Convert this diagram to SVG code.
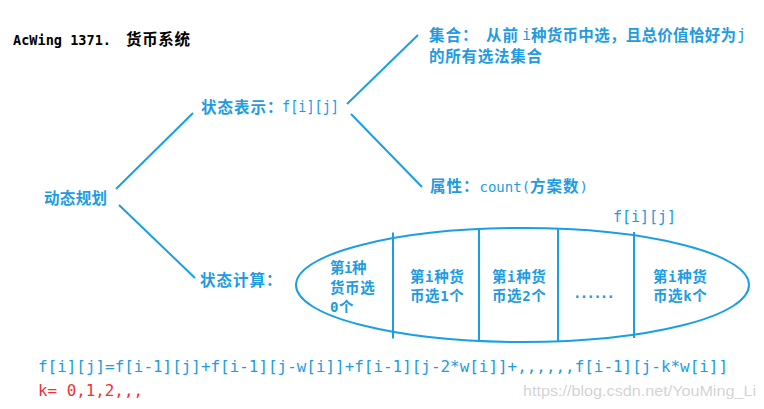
<svg xmlns="http://www.w3.org/2000/svg" width="764" height="409" viewBox="0 0 764 409">
<style>
.c{font-family:"Noto Sans CJK SC","Noto Sans",sans-serif;font-size:15.5px;letter-spacing:1px;fill:#1d9be3;font-weight:600}
.a{font-family:"DejaVu Sans Mono","Liberation Mono",monospace;font-size:15px;fill:#1d9be3}
.t{font-family:"DejaVu Sans Mono","Liberation Mono",monospace;font-size:14px;letter-spacing:0;font-weight:normal}
.cell{font-family:"Noto Sans CJK SC","Noto Sans",sans-serif;font-size:14.5px;letter-spacing:0.6px;fill:#1d9be3;font-weight:600}
.ca{font-family:"DejaVu Sans Mono","Liberation Mono",monospace;font-size:14px;font-weight:bold}
.ln{stroke:#1b9fe3;stroke-width:2;fill:none}
.mono{font-family:"DejaVu Sans Mono","Liberation Mono",monospace;font-size:16px}
</style>
<rect width="764" height="409" fill="#ffffff"/>
<g id="title">
<text x="13" y="45" font-family="DejaVu Sans Mono,monospace" font-size="14" font-weight="bold" fill="#000" textLength="98" lengthAdjust="spacingAndGlyphs">AcWing 1371.</text>
<text x="126" y="45" font-family="Noto Sans CJK SC,sans-serif" font-size="15.5" font-weight="bold" fill="#000" textLength="64">货币系统</text>
</g>
<g id="connectors">
<line class="ln" x1="116" y1="189" x2="193" y2="113"/>
<line class="ln" x1="119" y1="205" x2="195" y2="278"/>
<line class="ln" x1="347" y1="104" x2="418" y2="35"/>
<line class="ln" x1="351" y1="114" x2="422" y2="187"/>
</g>
<g id="node-dp">
<text class="c" x="44" y="203.5" textLength="64">动态规划</text>
</g>
<g id="node-state">
<text class="c" x="201" y="112.5">状态表示：</text>
<text class="a" x="282" y="112" textLength="57" lengthAdjust="spacingAndGlyphs">f[i][j]</text>
</g>
<g id="node-set">
<text class="c" x="429" y="40.5">集合：</text>
<text class="c" x="486" y="40.5" letter-spacing="0.5">从前</text>
<text class="a" x="522" y="40">i</text>
<text class="c" x="531" y="40.5" textLength="206">种货币中选，且总价值恰好为</text>
<text class="a" x="737" y="40">j</text>
<text class="c" x="429" y="62" textLength="114">的所有选法集合</text>
</g>
<g id="node-attr">
<text class="c" x="430" y="191.5">属性：<tspan class="t">count(</tspan>方案数<tspan class="t">)</tspan></text>
</g>
<g id="node-calc">
<text class="c" x="200" y="285.5">状态计算：</text>
</g>
<g id="node-fij">
<text class="a" x="613" y="222" textLength="63" lengthAdjust="spacingAndGlyphs">f[i][j]</text>
</g>
<g id="node-ellipse">
<ellipse class="ln" cx="522.5" cy="285" rx="226.5" ry="57"/>
<line class="ln" x1="393" y1="232.5" x2="393" y2="338.5"/>
<line class="ln" x1="479" y1="228.5" x2="479" y2="342"/>
<line class="ln" x1="558" y1="228.5" x2="558" y2="341.5"/>
<line class="ln" x1="634" y1="232" x2="634" y2="338"/>
<text class="cell" x="330" y="273" textLength="37">第<tspan class="ca">i</tspan>种</text>
<text class="cell" x="330" y="293">货币选</text>
<text class="cell" x="330" y="312"><tspan class="ca">0</tspan>个</text>
<text class="cell" x="410" y="282">第<tspan class="ca">i</tspan>种货</text>
<text class="cell" x="410" y="301">币选<tspan class="ca">1</tspan>个</text>
<text class="cell" x="492" y="282">第<tspan class="ca">i</tspan>种货</text>
<text class="cell" x="492" y="301">币选<tspan class="ca">2</tspan>个</text>
<text class="ca" x="573" y="298" fill="#1d9be3" font-weight="normal" textLength="42">......</text>
<text class="cell" x="653" y="282">第<tspan class="ca">i</tspan>种货</text>
<text class="cell" x="653" y="301">币选<tspan class="ca">k</tspan>个</text>
</g>
<g id="node-formula">
<text class="mono" x="38" y="372" fill="#1d9be3" textLength="690" lengthAdjust="spacingAndGlyphs">f[i][j]=f[i-1][j]+f[i-1][j-w[i]]+f[i-1][j-2*w[i]]+,,,,,,f[i-1][j-k*w[i]]</text>
</g>
<g id="node-k">
<text class="mono" x="38" y="396" fill="#f22f36" textLength="105" lengthAdjust="spacingAndGlyphs">k= 0,1,2,,,</text>
</g>
<g id="watermark">
<text x="523" y="396" font-family="Liberation Sans,Arial,sans-serif" font-size="15" fill="#c8c8c8" fill-opacity="0.8" textLength="233" lengthAdjust="spacingAndGlyphs">https://blog.csdn.net/YouMing_Li</text>
</g>
</svg>
